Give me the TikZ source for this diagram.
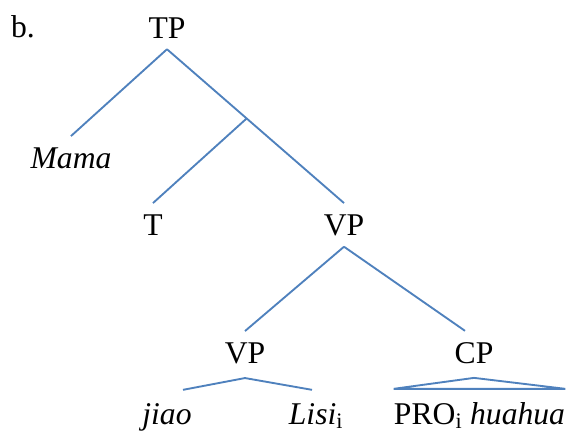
\documentclass[tikz,border=0pt]{standalone}
\usepackage{fontspec}
\setmainfont{Liberation Serif}
\usepackage{tikz}
\usetikzlibrary{positioning,calc}

\definecolor{treeblue}{RGB}{79,129,189}
\tikzset{
    cat/.style={anchor=base,inner xsep=0pt,inner ysep=3.3mm,font=\fontsize{27}{32}\selectfont},
    branch/.style={draw=treeblue,line width=1.6pt}
}

\begin{document}
\begin{tikzpicture}[x=0.3mm,y=-0.3mm]
            \useasboundingbox (0,0) rectangle (568,432);
            \node [cat] (lbl) at (23,37) {b.};
            \node [cat] (tp) at (167,38) {TP};
            \node [cat] (mama) at (71,168) {\textit{Mama}};
            \node [cat] (t) at (153,235) {T};
            \node [cat] (vp) at (344,235) {VP};
            \node [cat] (vpl) at (245,363) {VP};
            \node [cat] (cp) at (474,363) {CP};
            \node [cat] (jiao) at (167,424) {\textit{jiao}};
            \node [cat] (lisi) at (316,424) {\textit{Lisi}\textsubscript{i}};
            \node [cat] (pro) at (479.5,424) {PRO\textsubscript{i} \textit{huahua}};

            \draw [branch] (tp.south) -- (mama.north);
            \draw [branch] (tp.south) -- (vp.north);
            \coordinate (tbar) at ($(tp.south)!0.45!(vp.north)$);
            \draw [branch] (tbar) -- (t.north);
            \draw [branch] (vp.south) -- (vpl.north);
            \draw [branch] (vp.south) -- ([xshift=-2.7mm]cp.north);
            \draw [branch] ([yshift=-1mm]vpl.south) -- ([xshift=4.8mm,yshift=0.6mm]jiao.north);
            \draw [branch] ([yshift=-1mm]vpl.south) -- ([xshift=-1.2mm,yshift=0.6mm]lisi.north);
            \draw [branch] ([yshift=-1mm]cp.south) -- ([yshift=0.6mm]pro.north west) -- ([yshift=0.6mm]pro.north east) -- cycle;
        \end{tikzpicture}
\end{document}
